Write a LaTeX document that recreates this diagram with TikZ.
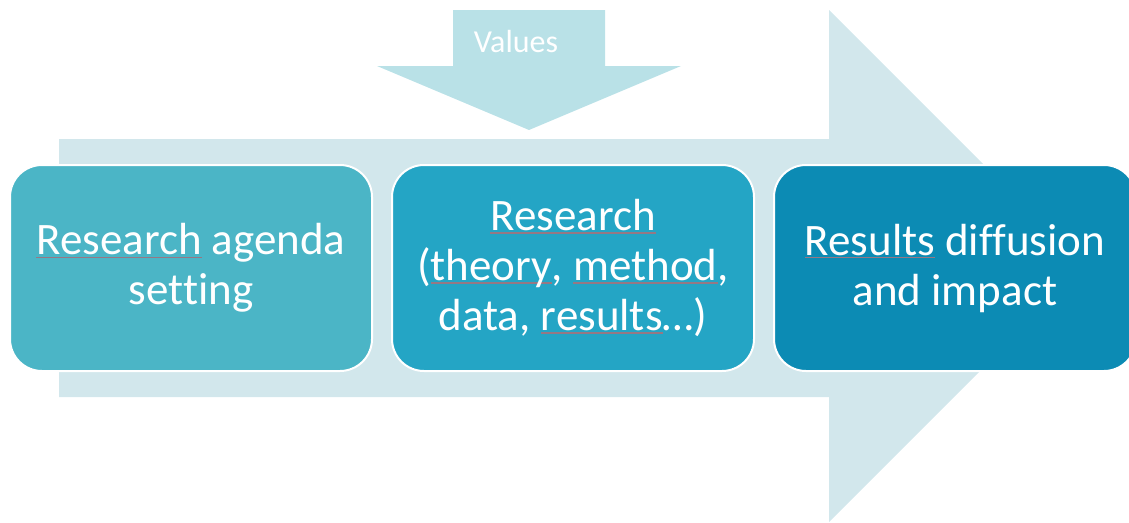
\documentclass[tikz,border=0pt]{standalone}
\usepackage{fontspec}
\setmainfont[Ligatures=NoCommon]{Carlito}
\definecolor{flowback}{HTML}{D2E7EC}
\definecolor{valuesback}{HTML}{B9E1E7}
\definecolor{agendafill}{HTML}{4BB5C6}
\definecolor{researchfill}{HTML}{24A5C5}
\definecolor{impactfill}{HTML}{0C8BB4}
\definecolor{spellred}{RGB}{150,120,132}
\newcommand\spellword[1]{\sbox0{#1}\rlap{\color{spellred}\rule[-3pt]{\wd0}{1.2pt}}\usebox0}
\tikzset{
  stagebox/.style={draw=white, line width=2pt, rounded corners=32pt,
    minimum width=362pt, minimum height=206pt, text=white, align=center,
    font=\fontsize{45}{50}\selectfont}
}
\begin{document}
\begin{tikzpicture}[x=1pt, y=-1pt]
  \useasboundingbox (0,0) rectangle (1129,522);
  \clip (0,0) rectangle (1129,522);
  % the wide arrow behind the three stages
  \fill[flowback] (59,139) -- (829,139) -- (829,10) -- (1085,266) -- (829,522)
    -- (829,397) -- (59,397) -- cycle;
  % the values arrow coming down from the top
  \fill[valuesback] (453,10) -- (605,10) -- (605,66) -- (681,66) -- (529,130)
    -- (377,66) -- (453,66) -- cycle;
  \node[text=white, font=\fontsize{32}{36}\selectfont] (values) at (516,42) {Values};
  % the three stages
  \node[stagebox, fill=agendafill] (agenda) at (191,268)
    {\spellword{Research} agenda\\setting};
  \node[stagebox, fill=researchfill] (research) at (573,268)
    {\spellword{Research}\\(\spellword{theory}, \spellword{method},\\data, \spellword{results}…)};
  \node[stagebox, fill=impactfill] (impact) at (955,268)
    {\spellword{Results} diffusion\\and impact};
\end{tikzpicture}
\end{document}
